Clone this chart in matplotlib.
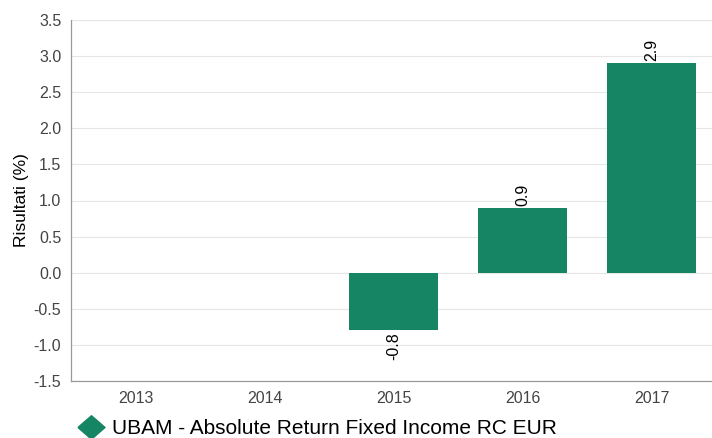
import matplotlib
matplotlib.use('Agg')
import matplotlib.pyplot as plt

plt.rcParams['font.family'] = ['Liberation Sans', 'DejaVu Sans']

years = ['2013', '2014', '2015', '2016', '2017']
values = [None, None, -0.8, 0.9, 2.9]
series_name = 'UBAM - Absolute Return Fixed Income RC EUR'
bar_color = '#168563'

W, H = 712, 438
fig = plt.figure(figsize=(W / 100, H / 100), dpi=100)
ax = fig.add_axes([71/W, 57/H, 645/W, 361/H])

xs = list(range(len(years)))
for x, v in zip(xs, values):
    if v is None:
        continue
    ax.bar(x, v, width=0.69, color=bar_color, zorder=3)
    if v >= 0:
        ax.text(x, v + 0.03, f'{v:.1f}', rotation=90, ha='center', va='bottom', fontsize=11.5, color='black', zorder=4)
    else:
        ax.text(x, v - 0.03, f'{v:.1f}', rotation=90, ha='center', va='top', fontsize=11.5, color='black', zorder=4)

ax.set_xlim(-0.5, len(years) - 0.5)
ax.set_ylim(-1.5, 3.5)
ax.set_yticks([-1.5 + 0.5 * i for i in range(11)])
ax.set_yticklabels([f'{-1.5 + 0.5 * i:.1f}' for i in range(11)])
ax.set_xticks(xs)
ax.set_xticklabels(years)
ax.tick_params(axis='both', length=0, labelsize=11.5, labelcolor='#444444')
ax.tick_params(axis='x', pad=7)
ax.tick_params(axis='y', pad=7)
ax.grid(axis='y', color='#e6e6e6', linewidth=0.8, zorder=0)
for s in ['top', 'right']:
    ax.spines[s].set_visible(False)
for s in ['left', 'bottom']:
    ax.spines[s].set_color('#999999')
    ax.spines[s].set_linewidth(0.9)
ax.set_ylabel('Risultati (%)', fontsize=12.5, color='black', labelpad=3)

# legend drawn by hand: a flat diamond followed by the series name
diamond = [(-1.15, 0), (0, 1), (1.15, 0), (0, -1), (-1.15, 0)]
fig.lines.append(plt.Line2D([91 / W], [1 - 426.5 / H], marker=diamond, markersize=19.5,
                            color=bar_color, linestyle='none', transform=fig.transFigure))
fig.text(112 / W, 1 - 428 / H, series_name, fontsize=15, va='center', ha='left', color='black')

fig.savefig('out.png', dpi=100)
